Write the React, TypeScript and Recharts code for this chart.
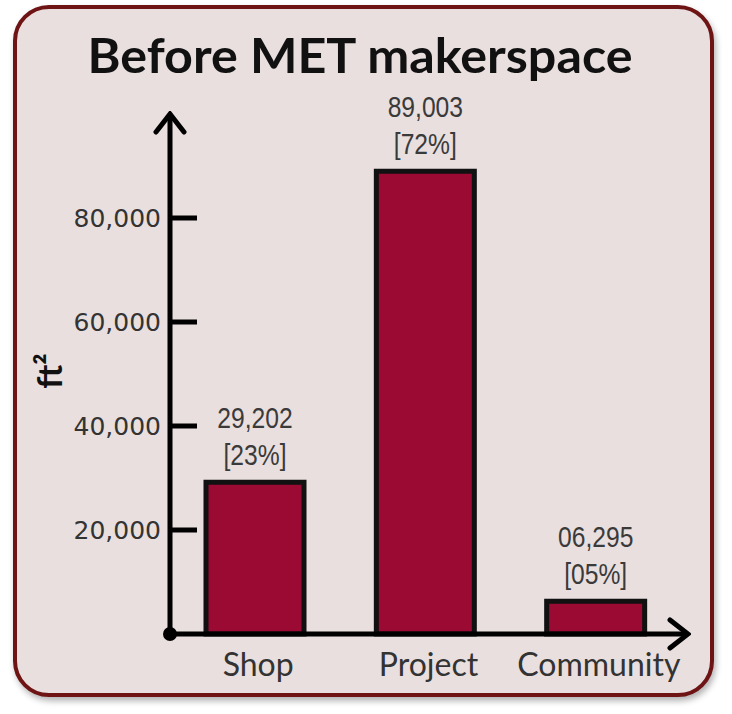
import { BarChart, Bar, XAxis, YAxis, LabelList } from 'recharts';

const categories = ['Shop', 'Project', 'Community'];
const areas = [29202, 89003, 6295];
const areaLabels = ['29,202', '89,003', '06,295'];
const shareLabels = ['[23%]', '[72%]', '[05%]'];
const yTicks = [20000, 40000, 60000, 80000];
const yMax = 100000;

const data = categories.map((name, i) => ({ name, area: areas[i] }));

const YTick = (props: any) => {
  const { x, y, payload } = props;
  return (
    <g>
      <line x1={x} x2={x + 27} y1={y} y2={y} stroke="#000" strokeWidth={5} />
      <text
        x={x - 9}
        y={y}
        textAnchor="end"
        dominantBaseline="central"
        fontFamily="DejaVu Sans, sans-serif"
        fontSize={25}
        fill="#333"
      >
        {payload.value.toLocaleString('en-US')}
      </text>
    </g>
  );
};

const XTick = (props: any) => {
  const { x, y, payload } = props;
  return (
    <text x={x + 3} y={y + 42} textAnchor="middle" fontFamily="Lato, sans-serif" fontSize={32} fill="#333">
      {payload.value}
    </text>
  );
};

// the original uses a narrow Arial, so squeeze Liberation Sans a bit
const BarLabel = (props: any) => {
  const { x, y, width, index } = props;
  const cx = x + width / 2;
  return (
    <g transform={`translate(${cx}, 0) scale(0.85, 1)`}>
      <text
        textAnchor="middle"
        fontFamily="'Liberation Sans', Arial, sans-serif"
        fontSize={29}
        fill="#3a3a3a"
      >
        <tspan x={0} y={y - 54}>{areaLabels[index]}</tspan>
        <tspan x={0} y={y - 17}>{shareLabels[index]}</tspan>
      </text>
    </g>
  );
};

const UnitLabel = (props: any) => {
  const { viewBox } = props;
  const lx = viewBox.x + 62;
  const ly = viewBox.y + viewBox.height / 2 - 3;
  return (
    <text
      x={lx}
      y={ly}
      transform={`rotate(-90, ${lx}, ${ly})`}
      textAnchor="middle"
      fontFamily="Lato, sans-serif"
      fontWeight="bold"
      fontSize={34}
      fill="#111"
    >
      ft²
    </text>
  );
};

export default function App() {
  return (
    <div style={{ position: 'absolute', left: 0, top: 0, width: 732, height: 714, background: '#fff' }}>
      <div
        style={{
          position: 'absolute',
          left: 13,
          top: 5,
          width: 693,
          height: 684,
          border: '4px solid #6e1414',
          borderRadius: 36,
          background: '#e9dfdf',
          boxShadow: '2px 4px 6px rgba(0,0,0,0.3)',
        }}
      />
      <svg width={732} height={110} style={{ position: 'absolute', left: 0, top: 0 }}>
        <text
          x={360}
          y={73}
          textAnchor="middle"
          fontFamily="Lato, sans-serif"
          fontWeight="bold"
          fontSize={48}
          fill="#111"
          textLength={545}
          lengthAdjust="spacingAndGlyphs"
        >
          Before MET makerspace
        </text>
      </svg>
      <div style={{ position: 'absolute', left: 0, top: 0 }}>
        <BarChart width={732} height={714} data={data} margin={{ top: 114, right: 44, bottom: 30, left: 0 }}>
          <defs>
            <marker
              id="arrowHead"
              viewBox="0 0 24 34"
              refX={21}
              refY={17}
              markerWidth={24}
              markerHeight={34}
              markerUnits="userSpaceOnUse"
              orient="auto-start-reverse"
            >
              <path d="M3,3 L21,17 L3,31" fill="none" stroke="#000" strokeWidth={5} strokeLinecap="round" />
            </marker>
            <marker
              id="originDot"
              viewBox="0 0 16 16"
              refX={8}
              refY={8}
              markerWidth={16}
              markerHeight={16}
              markerUnits="userSpaceOnUse"
            >
              <circle cx={8} cy={8} r={7} fill="#000" />
            </marker>
          </defs>
          <XAxis
            dataKey="name"
            height={50}
            padding={{ left: 0, right: 7 }}
            tickSize={0}
            tickMargin={0}
            tickLine={false}
            interval={0}
            tick={<XTick />}
            axisLine={{ stroke: '#000', strokeWidth: 5, markerEnd: 'url(#arrowHead)', markerStart: 'url(#originDot)' }}
          />
          <YAxis
            width={170}
            domain={[0, yMax]}
            ticks={yTicks}
            interval={0}
            tickSize={0}
            tickMargin={0}
            tickLine={false}
            tick={<YTick />}
            axisLine={{ stroke: '#000', strokeWidth: 5, markerStart: 'url(#arrowHead)' }}
            label={<UnitLabel />}
          />
          <Bar dataKey="area" fill="#9b0a33" stroke="#111" strokeWidth={5} barSize={98} isAnimationActive={false}>
            <LabelList dataKey="area" content={<BarLabel />} />
          </Bar>
        </BarChart>
      </div>
    </div>
  );
}
